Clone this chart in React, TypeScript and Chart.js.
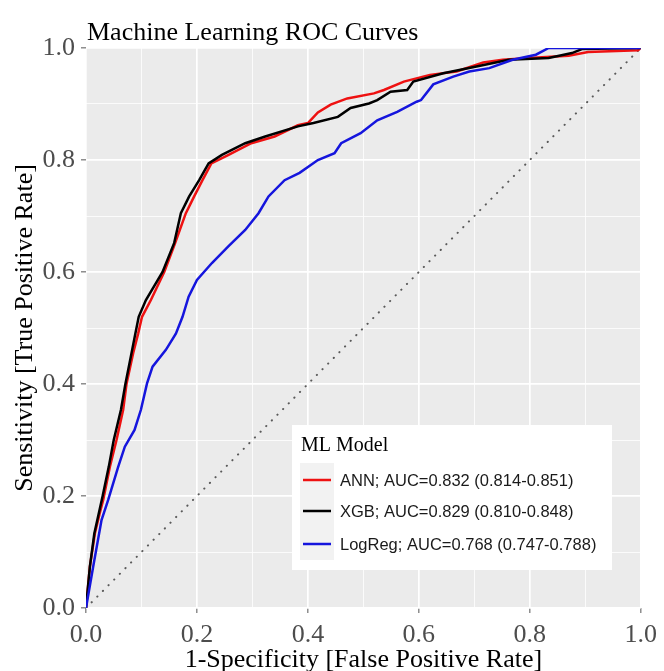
import React, { useEffect, useRef } from "react";
import { Chart, registerables } from "chart.js";
Chart.register(...registerables);

const titleText = "Machine Learning ROC Curves";
const xTitle = "1-Specificity [False Positive Rate]";
const yTitle = "Sensitivity [True Positive Rate]";
const legendTitle = "ML Model";
const seriesLabels = [
  "ANN; AUC=0.832 (0.814-0.851)",
  "XGB; AUC=0.829 (0.810-0.848)",
  "LogReg; AUC=0.768 (0.747-0.788)",
];

const annFpr = [0, 0.007, 0.016, 0.025, 0.031, 0.043, 0.055, 0.067, 0.073, 0.085, 0.094, 0.101, 0.117, 0.141, 0.16, 0.18, 0.195, 0.21, 0.226, 0.257, 0.298, 0.34, 0.382, 0.4, 0.418, 0.441, 0.471, 0.519, 0.537, 0.573, 0.62, 0.668, 0.716, 0.751, 0.798, 0.87, 0.905, 0.995, 1];
const annTpr = [0, 0.074, 0.133, 0.17, 0.193, 0.252, 0.3, 0.354, 0.4, 0.455, 0.49, 0.52, 0.55, 0.6, 0.65, 0.705, 0.735, 0.764, 0.794, 0.809, 0.83, 0.842, 0.862, 0.866, 0.885, 0.899, 0.91, 0.919, 0.925, 0.94, 0.952, 0.958, 0.974, 0.979, 0.982, 0.986, 0.993, 0.996, 1];

const xgbFpr = [0, 0.007, 0.015, 0.03, 0.041, 0.05, 0.063, 0.071, 0.082, 0.089, 0.095, 0.108, 0.138, 0.159, 0.171, 0.186, 0.204, 0.221, 0.245, 0.287, 0.323, 0.382, 0.41, 0.454, 0.477, 0.51, 0.525, 0.549, 0.579, 0.59, 0.644, 0.704, 0.762, 0.834, 0.876, 0.894, 1];
const xgbTpr = [0, 0.074, 0.133, 0.2, 0.252, 0.3, 0.354, 0.4, 0.455, 0.49, 0.52, 0.55, 0.6, 0.652, 0.705, 0.735, 0.764, 0.794, 0.809, 0.83, 0.842, 0.86, 0.866, 0.877, 0.893, 0.901, 0.907, 0.922, 0.925, 0.94, 0.955, 0.967, 0.979, 0.982, 0.991, 0.998, 1];

const logFpr = [0, 0.013, 0.028, 0.04, 0.058, 0.07, 0.0875, 0.099, 0.11, 0.12, 0.144, 0.162, 0.174, 0.185, 0.2, 0.227, 0.257, 0.287, 0.311, 0.329, 0.358, 0.385, 0.418, 0.448, 0.46, 0.495, 0.525, 0.561, 0.596, 0.604, 0.626, 0.662, 0.691, 0.727, 0.769, 0.811, 0.834, 1];
const logTpr = [0, 0.074, 0.157, 0.193, 0.252, 0.288, 0.318, 0.354, 0.401, 0.431, 0.461, 0.49, 0.52, 0.556, 0.586, 0.616, 0.646, 0.675, 0.705, 0.735, 0.764, 0.777, 0.8, 0.812, 0.83, 0.848, 0.871, 0.886, 0.904, 0.907, 0.935, 0.949, 0.958, 0.964, 0.979, 0.988, 1, 1];

const refX = [0, 1];
const refY = [0, 1];

const SERIF = "'Liberation Serif', 'Times New Roman', serif";
const SANS = "'Liberation Sans', Arial, sans-serif";
const COLORS = ["#ee1111", "#000000", "#1515dd"];

export default function App() {
  const ref = useRef<HTMLCanvasElement>(null);
  useEffect(() => {
    document.body.style.margin = "0";
    const pts = (xs: number[], ys: number[]) => xs.map((x, i) => ({ x, y: ys[i] }));
    const isMajor = (v: number) => Math.round(v * 10) % 2 === 0;

    const panelBg = {
      id: "panelBg",
      beforeDraw(chart: any) {
        const { ctx, chartArea } = chart;
        ctx.save();
        ctx.fillStyle = "#EBEBEB";
        ctx.fillRect(chartArea.left, chartArea.top, chartArea.right - chartArea.left, chartArea.bottom - chartArea.top);
        ctx.restore();
      },
    };

    const overlay = {
      id: "overlay",
      afterDraw(chart: any) {
        const { ctx } = chart;
        ctx.save();
        ctx.fillStyle = "#000";
        ctx.font = `26px ${SERIF}`;
        ctx.textAlign = "left";
        ctx.textBaseline = "alphabetic";
        ctx.fillText(titleText, 87, 40);
        const lx = 292, ly = 425, lw = 320, lh = 145;
        ctx.fillStyle = "#ffffff";
        ctx.fillRect(lx, ly, lw, lh);
        ctx.fillStyle = "#000";
        ctx.font = `20px ${SERIF}`;
        ctx.fillText(legendTitle, 301, 451);
        ctx.fillStyle = "#F2F2F2";
        ctx.fillRect(300, 463, 34, 97);
        const rows = [480, 511, 544];
        seriesLabels.forEach((lab, i) => {
          ctx.strokeStyle = COLORS[i];
          ctx.lineWidth = 2.5;
          ctx.beginPath();
          ctx.moveTo(303, rows[i]);
          ctx.lineTo(331, rows[i]);
          ctx.stroke();
          ctx.fillStyle = "#1a1a1a";
          ctx.font = `16.5px ${SANS}`;
          ctx.textBaseline = "middle";
          ctx.fillText(lab, 340, rows[i] + 1);
        });
        ctx.restore();
      },
    };

    const gridOpts = {
      color: "#ffffff",
      lineWidth: (c: any) => (c.tick && isMajor(c.tick.value) ? 1.7 : 0.8),
      tickColor: (c: any) => (c.tick && isMajor(c.tick.value) ? "#555555" : "rgba(0,0,0,0)"),
      tickWidth: 1,
      tickLength: 5,
      drawTicks: true,
    };

    const chart = new Chart(ref.current!, {
      type: "line",
      data: {
        datasets: [
          { label: "LogReg", data: pts(logFpr, logTpr), borderColor: COLORS[2], borderWidth: 2.5, pointRadius: 0, tension: 0, order: 0 },
          { label: "XGB", data: pts(xgbFpr, xgbTpr), borderColor: COLORS[1], borderWidth: 2.5, pointRadius: 0, tension: 0, order: 1 },
          { label: "ANN", data: pts(annFpr, annTpr), borderColor: COLORS[0], borderWidth: 2.5, pointRadius: 0, tension: 0, order: 2 },
          { label: "ref", data: pts(refX, refY), borderColor: "#5a5a5a", borderWidth: 2, borderDash: [0.2, 7.8], borderCapStyle: "round", pointRadius: 0, order: 3 },
        ],
      },
      options: {
        animation: false,
        responsive: false,
        devicePixelRatio: 1,
        layout: { padding: { left: 0, top: 48, right: 18, bottom: 0 } },
        plugins: { legend: { display: false }, tooltip: { enabled: false }, title: { display: false } },
        scales: {
          x: {
            type: "linear",
            min: 0,
            max: 1,
            border: { display: false },
            grid: gridOpts as any,
            ticks: {
              stepSize: 0.1,
              autoSkip: false,
              maxRotation: 0,
              padding: 7,
              color: "#4d4d4d",
              font: { family: SERIF, size: 26 },
              callback: (v: any) => (isMajor(Number(v)) ? Number(v).toFixed(1) : ""),
            },
            title: { display: true, text: xTitle, color: "#000", font: { family: SERIF, size: 26, lineHeight: 1 }, padding: { top: 0, bottom: -2 } },
            afterFit: (s: any) => { s.height = 63; },
          },
          y: {
            type: "linear",
            min: 0,
            max: 1,
            border: { display: false },
            grid: gridOpts as any,
            ticks: {
              stepSize: 0.1,
              autoSkip: false,
              padding: 6,
              color: "#4d4d4d",
              font: { family: SERIF, size: 26 },
              callback: (v: any) => (isMajor(Number(v)) ? Number(v).toFixed(1) : ""),
            },
            title: { display: true, text: yTitle, color: "#000", font: { family: SERIF, size: 26, lineHeight: 1 }, padding: { top: 12, bottom: 0 } },
            afterFit: (s: any) => { s.width = 86; },
          },
        },
      },
      plugins: [panelBg, overlay],
    } as any);
    return () => chart.destroy();
  }, []);
  return (
    <div style={{ width: 664, height: 671, position: "relative" }}>
      <canvas ref={ref} width={664} height={671} style={{ display: "block" }} />
    </div>
  );
}
